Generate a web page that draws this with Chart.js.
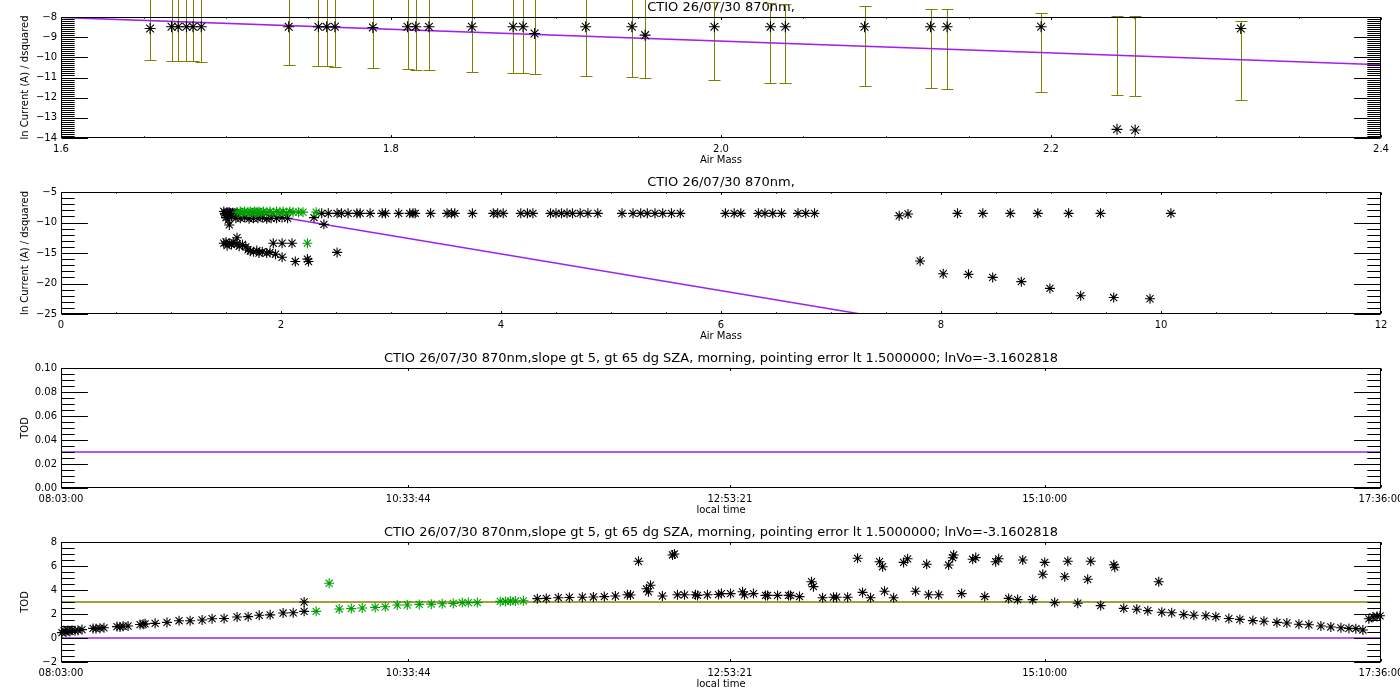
<!DOCTYPE html>
<html>
<head>
<meta charset="utf-8">
<script src="https://cdn.jsdelivr.net/npm/chart.js@4/dist/chart.umd.min.js"></script>
<style>
  body { margin: 0; background: #fff; }
  .panel { position: absolute; left: 0; width: 1400px; }
</style>
</head>
<body>
<div class="panel" style="top:0;height:170px"><canvas id="p1"></canvas></div>
<div class="panel" style="top:175px;height:171px"><canvas id="p2"></canvas></div>
<div class="panel" style="top:351px;height:169px"><canvas id="p3"></canvas></div>
<div class="panel" style="top:525px;height:169px"><canvas id="p4"></canvas></div>
<script>
// ---- panel 1 : zoom on air mass 1.6 - 2.4 ----
var am1 = [1.654, 1.667, 1.671, 1.676, 1.680, 1.685, 1.738, 1.756, 1.761, 1.766, 1.789,
  1.810, 1.815, 1.823, 1.849, 1.874, 1.880, 1.887, 1.918, 1.946, 1.954, 1.996, 2.030,
  2.039, 2.087, 2.127, 2.137, 2.194, 2.240, 2.251, 2.315];
var ln1 = [-8.57, -8.48, -8.48, -8.48, -8.48, -8.48, -8.48, -8.48, -8.48, -8.48, -8.52,
  -8.48, -8.48, -8.48, -8.48, -8.48, -8.48, -8.82, -8.48, -8.48, -8.90, -8.48, -8.48,
  -8.48, -8.48, -8.48, -8.48, -8.48, -13.57, -13.60, -8.57];
var errLow1 = [-10.12, -10.17, -10.17, -10.17, -10.20, -10.22, -10.37, -10.42, -10.42, -10.47, -10.52,
  -10.57, -10.62, -10.62, -10.72, -10.77, -10.77, -10.82, -10.92, -10.97, -11.02, -11.12, -11.27,
  -11.27, -11.42, -11.52, -11.57, -11.70, -11.87, -11.92, -12.12];
var errHigh1 = [-6.24, -6.26, -6.29, -6.32, -6.31, -6.32, -6.48, -6.54, -6.57, -6.55, -6.63,
  -6.70, -6.68, -6.73, -6.78, -6.88, -6.92, -6.91, -6.99, -7.10, -7.10, -7.24, -7.31,
  -7.36, -7.46, -7.61, -7.61, -7.81, -7.95, -7.95, -8.18];
var fitAm1 = [1.6, 2.4];
var fitLn1 = [-8.02, -10.37];

// ---- panel 2 : all air masses ----
var am2Black = [1.48, 1.49, 1.50, 1.50, 1.51, 1.52, 1.52, 1.53, 1.53, 1.54, 1.55, 1.56, 1.57, 1.58, 1.59, 1.60,
  1.63, 1.67, 1.71, 1.75, 1.79, 1.83, 1.87, 1.91, 1.96, 2.01, 2.06, 2.30, 2.39,
  2.37, 2.43, 2.51, 2.55, 2.61, 2.69, 2.72, 2.81, 2.92, 2.95, 3.07, 3.17, 3.20, 3.22, 3.36, 3.51,
  3.55, 3.58, 3.74, 3.93, 3.97, 4.02, 4.18, 4.24, 4.29, 4.45, 4.50, 4.55, 4.60, 4.65, 4.72, 4.79,
  4.88, 5.10, 5.20, 5.27, 5.33, 5.40, 5.47, 5.55, 5.63, 6.04, 6.12, 6.18, 6.34, 6.40, 6.47, 6.55,
  6.70, 6.77, 6.85, 7.62, 7.70, 8.15, 8.38, 8.63, 8.88, 9.16, 9.45, 10.09,
  1.48, 1.50, 1.51, 1.53, 1.55, 1.57, 1.60, 1.60, 1.62, 1.65, 1.68, 1.70, 1.72, 1.75, 1.78, 1.80,
  1.83, 1.87, 1.90, 1.93, 1.95, 2.01, 2.01, 2.10, 2.13, 2.24, 2.25, 2.51,
  7.81, 8.02, 8.25, 8.47, 8.73, 8.99, 9.27, 9.57, 9.90];
var ln2Black = [-8.2, -8.5, -8.8, -9.2, -8.4, -8.6, -9.6, -8.3, -10.4, -8.5, -9.0, -8.4, -8.7, -8.5, -9.3, -8.4,
  -9.3, -9.2, -9.4, -9.3, -9.3, -9.2, -9.4, -9.3, -9.3, -9.2, -9.3, -9.2, -10.3,
  -8.5, -8.5, -8.5, -8.5, -8.5, -8.5, -8.5, -8.5, -8.5, -8.5, -8.5, -8.5, -8.5, -8.5, -8.5, -8.5,
  -8.5, -8.5, -8.5, -8.5, -8.5, -8.5, -8.5, -8.5, -8.5, -8.5, -8.5, -8.5, -8.5, -8.5, -8.5, -8.5,
  -8.5, -8.5, -8.5, -8.5, -8.5, -8.5, -8.5, -8.5, -8.5, -8.5, -8.5, -8.5, -8.5, -8.5, -8.5, -8.5,
  -8.5, -8.5, -8.5, -8.9, -8.6, -8.5, -8.5, -8.5, -8.5, -8.5, -8.5, -8.5,
  -13.4, -13.2, -13.8, -13.4, -13.6, -13.3, -12.5, -13.5, -13.9, -13.6, -14.0, -14.5, -14.7, -14.8, -14.6, -15.0,
  -14.8, -15.0, -14.9, -13.4, -15.2, -13.4, -15.7, -13.4, -16.4, -16.0, -16.4, -14.9,
  -16.3, -18.4, -18.5, -19.0, -19.7, -20.8, -22.0, -22.3, -22.5];
var am2Green = [1.60, 1.63, 1.65, 1.67, 1.70, 1.72, 1.74, 1.76, 1.78, 1.80, 1.82, 1.84, 1.87, 1.90,
  1.93, 1.96, 1.99, 2.02, 2.05, 2.08, 2.11, 2.16, 2.20, 2.32, 2.24];
var ln2Green = [-8.3, -8.2, -8.4, -8.2, -8.3, -8.2, -8.4, -8.2, -8.3, -8.2, -8.4, -8.2, -8.3, -8.2,
  -8.4, -8.2, -8.3, -8.2, -8.4, -8.2, -8.3, -8.3, -8.3, -8.3, -13.4];
var fitAm2 = [1.5, 7.27];
var fitLn2 = [-7.62, -25.0];

// ---- panels 3 and 4 : local time (hours) ----
var timeTickLabels = ['08:03:00', '10:33:44', '12:53:21', '15:10:00', '17:36:00'];
var todLine3 = 0.03;
var t4Black = [8.057, 8.072, 8.086, 8.101, 8.115, 8.130, 8.151, 8.173, 8.202, 8.282, 8.303, 8.332,
  8.361, 8.455, 8.477, 8.499, 8.535, 8.622, 8.644, 8.658, 8.731, 8.817, 8.904, 8.984, 9.071,
  9.143, 9.230, 9.324, 9.404, 9.484, 9.563, 9.657, 9.730, 9.809, 9.809,
  11.496, 11.561, 11.648, 11.728, 11.822, 11.902, 11.981, 12.061, 12.148, 12.170, 12.228, 12.286,
  12.315, 12.300, 12.401, 12.474, 12.488, 12.510, 12.561, 12.640, 12.655, 12.727, 12.807, 12.828,
  12.894, 12.981, 12.995, 13.060, 13.147, 13.162, 13.234, 13.314, 13.328, 13.393, 13.480, 13.494,
  13.560, 13.639, 13.661, 13.741, 13.813, 13.849, 13.907, 13.972, 13.994, 14.008, 14.074, 14.146,
  14.175, 14.233, 14.313, 14.327, 14.400, 14.472, 14.501, 14.508, 14.566, 14.646, 14.668, 14.733,
  14.812, 14.834, 14.906, 14.971, 15.008, 15.080, 15.153, 15.167, 15.239, 15.312, 15.334, 15.406,
  15.478, 15.500, 15.572, 15.667, 15.674, 15.739, 15.833, 15.913, 15.992, 16.014, 16.086, 16.173,
  16.246, 16.333, 16.405, 16.499, 16.579, 16.673, 16.753, 16.847, 16.919, 17.006, 17.078, 17.165,
  17.237, 17.310, 17.368, 17.418, 17.469, 17.512, 17.542, 17.571, 17.593];
var tod4Black = [0.45, 0.60, 0.50, 0.62, 0.55, 0.65, 0.60, 0.65, 0.70, 0.80, 0.78, 0.82,
  0.85, 0.95, 0.92, 0.98, 1.00, 1.12, 1.15, 1.18, 1.22, 1.30, 1.44, 1.44, 1.50,
  1.61, 1.63, 1.75, 1.78, 1.89, 1.93, 2.08, 2.10, 3.00, 2.22,
  3.28, 3.30, 3.36, 3.38, 3.40, 3.42, 3.45, 3.50, 3.60, 3.58, 6.39, 4.10,
  4.40, 3.85, 3.50, 6.92, 7.00, 3.60, 3.60, 3.60, 3.55, 3.60, 3.62, 3.70,
  3.70, 3.85, 3.60, 3.70, 3.55, 3.55, 3.55, 3.55, 3.55, 3.45, 4.69, 4.28,
  3.35, 3.40, 3.40, 3.40, 6.64, 3.80, 3.35, 6.36, 5.94, 3.90, 3.35, 6.30,
  6.60, 3.90, 6.14, 3.60, 3.60, 6.08, 6.69, 6.92, 3.70, 6.56, 6.70, 3.45,
  6.36, 6.60, 3.30, 3.20, 6.50, 3.20, 5.31, 6.30, 2.95, 5.11, 6.40, 2.90,
  4.89, 6.40, 2.70, 6.10, 5.90, 2.47, 2.40, 2.28, 4.69, 2.15, 2.10, 1.95,
  1.90, 1.85, 1.78, 1.62, 1.55, 1.45, 1.40, 1.30, 1.25, 1.15, 1.10, 1.00,
  0.92, 0.85, 0.80, 0.78, 0.67, 1.60, 1.75, 1.80, 1.85];
var t4Green = [9.896, 9.990, 10.063, 10.150, 10.229, 10.323, 10.396, 10.483, 10.555, 10.642,
  10.729, 10.808, 10.888, 10.953, 10.997, 11.062, 11.228, 11.265, 11.301, 11.337, 11.395];
var tod4Green = [2.22, 4.56, 2.42, 2.45, 2.50, 2.55, 2.60, 2.75, 2.75, 2.80,
  2.82, 2.85, 2.88, 2.95, 2.95, 2.95, 3.05, 3.05, 3.08, 3.08, 3.10];
var todRef4 = 3.0;
var todZero4 = 0;

var titleShort = 'CTIO 26/07/30 870nm,';
var titleLong = 'CTIO 26/07/30 870nm,slope gt 5, gt 65 dg SZA, morning, pointing error lt 1.5000000; lnVo=-3.1602818';

var BLACK = '#000000', GREEN = '#00a000', PURPLE = '#a020f0', OLIVE = '#808000';
Chart.defaults.font.family = '"DejaVu Sans", sans-serif';
Chart.defaults.color = '#000';

function hms(s) {
  var p = s.split(':').map(Number);
  return p[0] + p[1] / 60 + p[2] / 3600;
}
var timeTickHours = timeTickLabels.map(hms);

function pts(xs, ys) { return xs.map(function (v, i) { return {x: v, y: ys[i]}; }); }
function minus(s) { return String(s).replace('-', '\u2212'); }

// tick values (major + minor) for the IDL-style frame
function tickVals(scale, n) {
  var major = scale.ticks.map(function (t) { return t.value; });
  var out = major.map(function (v) { return [v, true]; });
  if (n > 1 && major.length > 1) {
    var i, k, v, s;
    s = (major[1] - major[0]) / n;
    for (v = major[0] - s; v >= scale.min - 1e-9; v -= s) out.push([v, false]);
    for (i = 0; i < major.length - 1; i++) {
      s = (major[i + 1] - major[i]) / n;
      for (k = 1; k < n; k++) out.push([major[i] + k * s, false]);
    }
    s = (major[major.length - 1] - major[major.length - 2]) / n;
    for (v = major[major.length - 1] + s; v <= scale.max + 1e-9; v += s) out.push([v, false]);
  }
  return out;
}

// box + inward ticks on all four sides, lengths as in IDL (2% of the plot)
function idlFrame(xMinor, yMinor) {
  return {
    id: 'idlFrame',
    afterDraw: function (chart) {
      var ctx = chart.ctx, a = chart.chartArea, x = chart.scales.x, y = chart.scales.y;
      var L = Math.round(a.left) + 0.5, R = Math.round(a.right) - 0.5;
      var T = Math.round(a.top) + 0.5, B = Math.round(a.bottom) - 0.5;
      var yMaj = 0.02 * (R - L), xMaj = 0.02 * (B - T);
      ctx.save();
      ctx.strokeStyle = BLACK;
      ctx.lineWidth = 1;
      ctx.strokeRect(L, T, R - L, B - T);
      ctx.beginPath();
      tickVals(y, yMinor).forEach(function (t) {
        var py = Math.round(y.getPixelForValue(t[0])) + 0.5;
        var len = t[1] ? yMaj : yMaj / 2;
        ctx.moveTo(L, py); ctx.lineTo(L + len, py);
        ctx.moveTo(R, py); ctx.lineTo(R - len, py);
      });
      tickVals(x, xMinor).forEach(function (t) {
        var px = Math.round(x.getPixelForValue(t[0])) + 0.5;
        var len = t[1] ? xMaj : xMaj / 2;
        ctx.moveTo(px, B); ctx.lineTo(px, B - len);
        ctx.moveTo(px, T); ctx.lineTo(px, T + len);
      });
      ctx.stroke();
      ctx.restore();
    }
  };
}

// vertical error bars with caps, drawn before the points and not clipped
function errorBars(xs, lo, hi, color) {
  return {
    id: 'errorBars',
    beforeDatasetsDraw: function (chart) {
      var ctx = chart.ctx, x = chart.scales.x, y = chart.scales.y;
      ctx.save();
      ctx.strokeStyle = color;
      ctx.lineWidth = 1;
      ctx.beginPath();
      xs.forEach(function (v, i) {
        var px = Math.round(x.getPixelForValue(v)) + 0.5;
        var pl = Math.round(y.getPixelForValue(lo[i])) + 0.5;
        var ph = Math.round(y.getPixelForValue(hi[i])) + 0.5;
        ctx.moveTo(px, pl); ctx.lineTo(px, ph);
        ctx.moveTo(px - 6, pl); ctx.lineTo(px + 6, pl);
        ctx.moveTo(px - 6, ph); ctx.lineTo(px + 6, ph);
      });
      ctx.stroke();
      ctx.restore();
    }
  };
}

function stars(data, color, r, order) {
  return {type: 'scatter', data: data, pointStyle: 'star', pointRadius: r, pointHoverRadius: r,
    borderColor: color, backgroundColor: 'rgba(0,0,0,0)', pointBorderWidth: 1.1, borderWidth: 1,
    clip: false, order: order};
}
function line(data, color) {
  return {type: 'line', data: data, borderColor: color, borderWidth: 1.5, pointRadius: 0,
    fill: false, tension: 0, order: 5};
}

function makeChart(id, o) {
  return new Chart(document.getElementById(id), {
    type: 'scatter',
    data: {datasets: o.datasets},
    plugins: o.plugins,
    options: {
      responsive: true,
      maintainAspectRatio: false,
      animation: false,
      layout: {padding: {left: 0, right: 19, top: 0, bottom: 0}},
      plugins: {
        legend: {display: false},
        tooltip: {enabled: false},
        title: {display: true, text: o.title, fullSize: false, color: BLACK,
          font: {size: 13, weight: 'normal'}, padding: {top: 0, bottom: 1.4}}
      },
      scales: {
        x: {
          type: 'linear', min: o.xMin, max: o.xMax,
          grid: {display: false, drawTicks: false}, border: {display: false},
          afterBuildTicks: o.xTicks,
          ticks: {stepSize: o.xStep, padding: 5, maxRotation: 0, autoSkip: false,
            font: {size: 10}, color: BLACK, callback: o.xFmt},
          title: {display: true, text: o.xTitle, color: BLACK, font: {size: 10},
            padding: {top: 0, bottom: 4}},
          afterFit: function (s) { s.height = 32; s.paddingLeft = 0; s.paddingRight = 0; }
        },
        y: {
          type: 'linear', min: o.yMin, max: o.yMax,
          grid: {display: false, drawTicks: false}, border: {display: false},
          ticks: {stepSize: o.yStep, padding: 4, font: {size: 10}, color: BLACK,
            callback: o.yFmt},
          title: {display: true, text: o.yTitle, color: BLACK, font: {size: 10},
            padding: {top: 19, bottom: 0}},
          afterFit: function (s) { s.width = 61; s.paddingTop = 0; s.paddingBottom = 0; }
        }
      }
    }
  });
}

var timeTicks = function (s) { s.ticks = timeTickHours.map(function (v) { return {value: v}; }); };
var timeFmt = function (v, i) { return timeTickLabels[i]; };
var t0 = timeTickHours[0], t1 = timeTickHours[timeTickHours.length - 1];

makeChart('p1', {
  title: titleShort,
  datasets: [stars(pts(am1, ln1), BLACK, 5.5, 1), line(pts(fitAm1, fitLn1), PURPLE)],
  plugins: [errorBars(am1, errLow1, errHigh1, OLIVE), idlFrame(4, 10)],
  xMin: 1.6, xMax: 2.4, xStep: 0.2, xFmt: function (v) { return v.toFixed(1); }, xTitle: 'Air Mass',
  yMin: -14, yMax: -8, yStep: 1, yFmt: minus, yTitle: 'ln Current (A) / dsquared'
});

makeChart('p2', {
  title: titleShort,
  datasets: [stars(pts(am2Green, ln2Green), GREEN, 5, 0), stars(pts(am2Black, ln2Black), BLACK, 5, 1),
    line(pts(fitAm2, fitLn2), PURPLE)],
  plugins: [idlFrame(4, 5)],
  xMin: 0, xMax: 12, xStep: 2, xFmt: function (v) { return String(v); }, xTitle: 'Air Mass',
  yMin: -25, yMax: -5, yStep: 5, yFmt: minus, yTitle: 'ln Current (A) / dsquared'
});

makeChart('p3', {
  title: titleLong,
  datasets: [line(pts([t0, t1], [todLine3, todLine3]), PURPLE)],
  plugins: [idlFrame(1, 4)],
  xMin: t0, xMax: t1, xTicks: timeTicks, xFmt: timeFmt, xTitle: 'local time',
  yMin: 0, yMax: 0.1, yStep: 0.02, yFmt: function (v) { return v.toFixed(2); }, yTitle: 'TOD'
});

makeChart('p4', {
  title: titleLong,
  datasets: [stars(pts(t4Green, tod4Green), GREEN, 5, 0), stars(pts(t4Black, tod4Black), BLACK, 5, 1),
    line(pts([t0, t1], [todRef4, todRef4]), OLIVE), line(pts([t0, t1], [todZero4, todZero4]), PURPLE)],
  plugins: [idlFrame(1, 4)],
  xMin: t0, xMax: t1, xTicks: timeTicks, xFmt: timeFmt, xTitle: 'local time',
  yMin: -2, yMax: 8, yStep: 2, yFmt: minus, yTitle: 'TOD'
});
</script>
</body>
</html>
